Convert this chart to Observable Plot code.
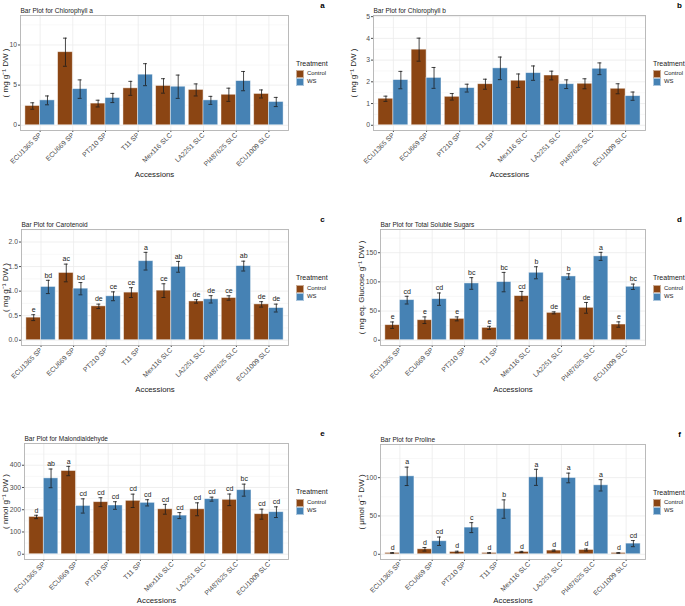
<!DOCTYPE html>
<html>
<head>
<meta charset="utf-8">
<script src="https://cdn.jsdelivr.net/npm/d3@7"></script>
<script src="https://cdn.jsdelivr.net/npm/@observablehq/plot@0.6"></script>
<style>
  body { margin: 0; background: #fff; }
  #figure { position: relative; width: 685px; height: 606px; overflow: hidden; background: #fff;
            font-family: "Liberation Sans", Arial, sans-serif; }
  .panel { position: absolute; }
  .legend-title { position: absolute; font-size: 7px; color: #1a1a1a; white-space: nowrap; line-height: 1; }
  .legend-key { position: absolute; width: 8px; height: 8px; box-sizing: border-box; border: 0.6px solid rgba(255,255,255,0.55); }
  .legend-label { position: absolute; font-size: 5.9px; color: #1a1a1a; white-space: nowrap; line-height: 1; }
</style>
</head>
<body>
<div id="figure"></div>
<script>
// Accessions and treatments
const accessions = ["ECU1365 SP", "ECU669 SP", "PT210 SP", "T11 SP", "Mex116 SLC", "LA2251 SLC", "PI487625 SLC", "ECU1009 SLC"];
const treatments = ["Control", "WS"];
const treatmentColors = ["#8B4513", "#4682B4"];

// Chlorophyll a (mg g-1 DW): means and standard errors
const chlaControl = [2.4, 9.1, 2.7, 4.6, 4.9, 4.4, 3.8, 3.9];
const chlaControlSe = [0.4, 1.75, 0.42, 0.87, 0.9, 0.75, 0.82, 0.5];
const chlaWS = [3.1, 4.5, 3.4, 6.3, 4.8, 3.1, 5.5, 2.9];
const chlaWSSe = [0.55, 1.15, 0.57, 1.37, 1.45, 0.5, 1.2, 0.57];

// Chlorophyll b (mg g-1 DW)
const chlbControl = [1.22, 3.48, 1.31, 1.89, 2.05, 2.29, 1.91, 1.68];
const chlbControlSe = [0.12, 0.53, 0.15, 0.23, 0.31, 0.2, 0.23, 0.23];
const chlbWS = [2.08, 2.18, 1.71, 2.62, 2.40, 1.89, 2.60, 1.34];
const chlbWSSe = [0.4, 0.48, 0.18, 0.52, 0.33, 0.2, 0.27, 0.19];

// Carotenoid (mg g-1 DW) with significance letters
const carControl = [0.46, 1.37, 0.69, 0.97, 1.01, 0.79, 0.86, 0.73];
const carControlSe = [0.06, 0.18, 0.045, 0.1, 0.14, 0.035, 0.045, 0.055];
const carWS = [1.085, 1.05, 0.895, 1.61, 1.495, 0.833, 1.51, 0.655];
const carWSSe = [0.135, 0.125, 0.09, 0.18, 0.11, 0.075, 0.1, 0.08];
const carControlLetters = ["e", "ac", "de", "ce", "ce", "de", "ce", "de"];
const carWSLetters = ["bd", "bd", "ce", "a", "ab", "de", "ab", "de"];

// Total soluble sugars (mg eq. glucose g-1 DW)
const tssControl = [25.8, 34.3, 36.6, 21.2, 75.6, 46.9, 55.5, 26.9];
const tssControlSe = [5.5, 5.7, 3.4, 2.6, 8, 1.7, 9.2, 4.6];
const tssWS = [68.7, 70.4, 97.3, 99.6, 115.6, 109.3, 143.7, 91.6];
const tssWSSe = [6.6, 10.6, 10, 16.6, 10.3, 4.6, 6.9, 4.6];
const tssControlLetters = ["e", "e", "e", "e", "cd", "de", "de", "e"];
const tssWSLetters = ["cd", "cd", "bc", "bc", "b", "b", "a", "bc"];

// Malondialdehyde (nmol g-1 DW)
const mdaControl = [167.5, 374, 234, 240, 202, 202, 244.5, 180];
const mdaControlSe = [7.5, 21, 20, 30, 22, 29, 26, 22.5];
const mdaWS = [341, 217, 219, 231, 173.6, 247.5, 288, 189];
const mdaWSSe = [42, 32, 17, 14, 13.5, 9, 27, 24];
const mdaControlLetters = ["d", "a", "cd", "cd", "cd", "cd", "cd", "cd"];
const mdaWSLetters = ["ab", "cd", "cd", "cd", "cd", "cd", "bc", "cd"];

// Proline (µmol g-1 DW)
const proControl = [1.7, 6.5, 3.0, 1.7, 3.0, 4.8, 5.6, 1.7];
const proControlSe = [0.5, 2.3, 1, 0.5, 0.8, 0.8, 1.3, 0.5];
const proWS = [101.7, 17, 34.8, 59, 100.4, 99.6, 90, 13.9];
const proWSSe = [12, 5.5, 6.5, 12, 10.5, 6.3, 7.4, 4];
const proControlLetters = ["d", "d", "d", "d", "d", "d", "d", "d"];
const proWSLetters = ["a", "cd", "c", "b", "a", "a", "a", "cd"];

// Axis breaks (major and minor) per panel
const chlaTicks = [0, 5, 10], chlaMinor = [2.5, 7.5, 12.5];
const chlbTicks = [0, 1, 2, 3, 4, 5], chlbMinor = [0.5, 1.5, 2.5, 3.5, 4.5];
const carTicks = [0, 0.5, 1, 1.5, 2], carMinor = [0.25, 0.75, 1.25, 1.75, 2.25];
const tssTicks = [0, 50, 100, 150], tssMinor = [25, 75, 125, 175];
const mdaTicks = [0, 100, 200, 300, 400], mdaMinor = [50, 150, 250, 350, 450];
const proTicks = [0, 50, 100], proMinor = [25, 75, 125];

const FONT = '"Liberation Sans", Arial, sans-serif';
const figure = document.getElementById("figure");

// Panel placement: cell = svg box, frame = plotting area (absolute px),
// ylabX = y-axis title position, xlabDy = x-axis title offset below the frame
const panels = [
  {tag: "a", title: "Bar Plot for Chlorophyll a", ylab: "( mg g\u207B\u00B9 DW )",
   control: chlaControl, controlSe: chlaControlSe, ws: chlaWS, wsSe: chlaWSSe,
   ticks: chlaTicks, minor: chlaMinor, fmt: d3.format("d"),
   cell: [0, 0, 340, 200], frame: [20, 288, 15, 130], ylabX: 5, xlabDy: 44, legendX: 296},
  {tag: "b", title: "Bar Plot for Chlorophyll b", ylab: "( mg g\u207B\u00B9 DW )",
   control: chlbControl, controlSe: chlbControlSe, ws: chlbWS, wsSe: chlbWSSe,
   ticks: chlbTicks, minor: chlbMinor, fmt: d3.format("d"),
   cell: [340, 0, 345, 200], frame: [373, 645, 15, 130], ylabX: 353, xlabDy: 44, legendX: 653},
  {tag: "c", title: "Bar Plot for Carotenoid", ylab: "( mg g\u207B\u00B9 DW )",
   control: carControl, controlSe: carControlSe, ws: carWS, wsSe: carWSSe,
   controlLetters: carControlLetters, wsLetters: carWSLetters,
   ticks: carTicks, minor: carMinor, fmt: d3.format(".1f"),
   cell: [0, 200, 340, 200], frame: [21, 288, 229, 345], ylabX: 5, xlabDy: 44, legendX: 296},
  {tag: "d", title: "Bar Plot for Total Soluble Sugars", ylab: "( mg eq. Glucose g\u207B\u00B9 DW )",
   control: tssControl, controlSe: tssControlSe, ws: tssWS, wsSe: tssWSSe,
   controlLetters: tssControlLetters, wsLetters: tssWSLetters,
   ticks: tssTicks, minor: tssMinor, fmt: d3.format("d"),
   cell: [340, 200, 345, 200], frame: [380, 645, 229, 345], ylabX: 361, xlabDy: 44, legendX: 653},
  {tag: "e", title: "Bar Plot for Malondialdehyde", ylab: "( nmol g\u207B\u00B9 DW )",
   control: mdaControl, controlSe: mdaControlSe, ws: mdaWS, wsSe: mdaWSSe,
   controlLetters: mdaControlLetters, wsLetters: mdaWSLetters,
   ticks: mdaTicks, minor: mdaMinor, fmt: d3.format("d"),
   cell: [0, 400, 340, 206], frame: [24, 288, 443, 559], ylabX: 5, xlabDy: 41, legendX: 296},
  {tag: "f", title: "Bar Plot for Proline", ylab: "( \u03BCmol g\u207B\u00B9 DW )",
   control: proControl, controlSe: proControlSe, ws: proWS, wsSe: proWSSe,
   controlLetters: proControlLetters, wsLetters: proWSLetters,
   ticks: proTicks, minor: proMinor, fmt: d3.format("d"),
   cell: [340, 400, 345, 206], frame: [380, 645, 444, 559], ylabX: 361, xlabDy: 41, legendX: 653}
];

const positions = accessions.map((_, i) => i + 1);
const dodge = 0.225;   // half of a bar's width in category units
const cap = 0.06;      // half-width of error bar caps

for (const p of panels) {
  const rows = accessions.flatMap((acc, i) => [
    {acc, treatment: "Control", xc: i + 1 - dodge, mean: p.control[i], se: p.controlSe[i],
     letter: p.controlLetters ? p.controlLetters[i] : null},
    {acc, treatment: "WS", xc: i + 1 + dodge, mean: p.ws[i], se: p.wsSe[i],
     letter: p.wsLetters ? p.wsLetters[i] : null}
  ]);
  const hi = 1.2 * d3.max(rows, d => d.mean + d.se);
  const [cl, ct, cw, ch] = p.cell;
  const [fl, fr, ft, fb] = p.frame;

  const marks = [
    Plot.ruleY(p.minor, {stroke: "#f3f3f3", strokeWidth: 0.6}),
    Plot.ruleY(p.ticks, {stroke: "#ebebeb", strokeWidth: 0.8}),
    Plot.ruleX(positions, {stroke: "#ebebeb", strokeWidth: 0.8}),
    Plot.rect(rows, {x1: d => d.xc - dodge, x2: d => d.xc + dodge, y1: 0, y2: "mean",
                     fill: "treatment", stroke: "white", strokeOpacity: 0.55, strokeWidth: 0.8}),
    Plot.ruleX(rows, {x: "xc", y1: d => d.mean - d.se, y2: d => d.mean + d.se, stroke: "#1a1a1a", strokeWidth: 0.8}),
    Plot.ruleY(rows, {y: d => d.mean + d.se, x1: d => d.xc - cap, x2: d => d.xc + cap, stroke: "#1a1a1a", strokeWidth: 0.8}),
    Plot.ruleY(rows, {y: d => d.mean - d.se, x1: d => d.xc - cap, x2: d => d.xc + cap, stroke: "#1a1a1a", strokeWidth: 0.8}),
    Plot.frame({stroke: "#b3b3b3", strokeWidth: 0.9}),
    Plot.text([p.title], {frameAnchor: "top-left", dy: -5, textAnchor: "start", lineAnchor: "middle",
                          fontSize: 6.5, fill: "#1a1a1a"}),
    Plot.text([p.tag], {frameAnchor: "top-right", dx: 34, dy: -10, textAnchor: "middle", lineAnchor: "middle",
                        fontSize: 8, fontWeight: "bold", fill: "#000"}),
    Plot.text([p.ylab], {frameAnchor: "left", dx: p.ylabX - fl, rotate: -90, textAnchor: "middle", lineAnchor: "middle",
                         fontSize: 8, fill: "#1a1a1a"}),
    Plot.text(["Accessions"], {frameAnchor: "bottom", dy: p.xlabDy, textAnchor: "middle", lineAnchor: "middle",
                               fontSize: 7.8, fill: "#1a1a1a"})
  ];
  if (p.controlLetters) {
    marks.push(Plot.text(rows, {x: "xc", y: d => d.mean + d.se, text: "letter", dy: -5, fontSize: 7, fill: "#1a1a1a"}));
  }

  const svg = Plot.plot({
    width: cw, height: ch,
    marginLeft: fl - cl, marginRight: cl + cw - fr,
    marginTop: ft - ct, marginBottom: ct + ch - fb,
    style: {fontFamily: FONT, fontSize: "6.8px", color: "#4d4d4d", background: "transparent", overflow: "visible"},
    x: {domain: [0.4, 8.6], ticks: positions, tickFormat: i => accessions[i - 1],
        tickRotate: -45, tickSize: 2, tickPadding: 1.5, label: null},
    y: {domain: [-0.05 * hi, 1.05 * hi], ticks: p.ticks, tickFormat: p.fmt, tickSize: 2, tickPadding: 1.5, label: null},
    color: {domain: treatments, range: treatmentColors},
    marks
  });
  svg.classList.add("panel");
  svg.style.left = cl + "px";
  svg.style.top = ct + "px";
  figure.appendChild(svg);

  // Legend: title plus one key per treatment, centred on the panel
  const mid = (ft + fb) / 2;
  const title = document.createElement("div");
  title.className = "legend-title";
  title.textContent = "Treatment";
  title.style.left = p.legendX + "px";
  title.style.top = (mid - 13) + "px";
  figure.appendChild(title);
  treatments.forEach((t, k) => {
    const key = document.createElement("div");
    key.className = "legend-key";
    key.style.background = treatmentColors[k];
    key.style.left = p.legendX + "px";
    key.style.top = (mid - 2.5 + 8 * k) + "px";
    figure.appendChild(key);
    const lab = document.createElement("div");
    lab.className = "legend-label";
    lab.textContent = t;
    lab.style.left = (p.legendX + 11) + "px";
    lab.style.top = (mid - 1.5 + 8 * k) + "px";
    figure.appendChild(lab);
  });
}
</script>
</body>
</html>
